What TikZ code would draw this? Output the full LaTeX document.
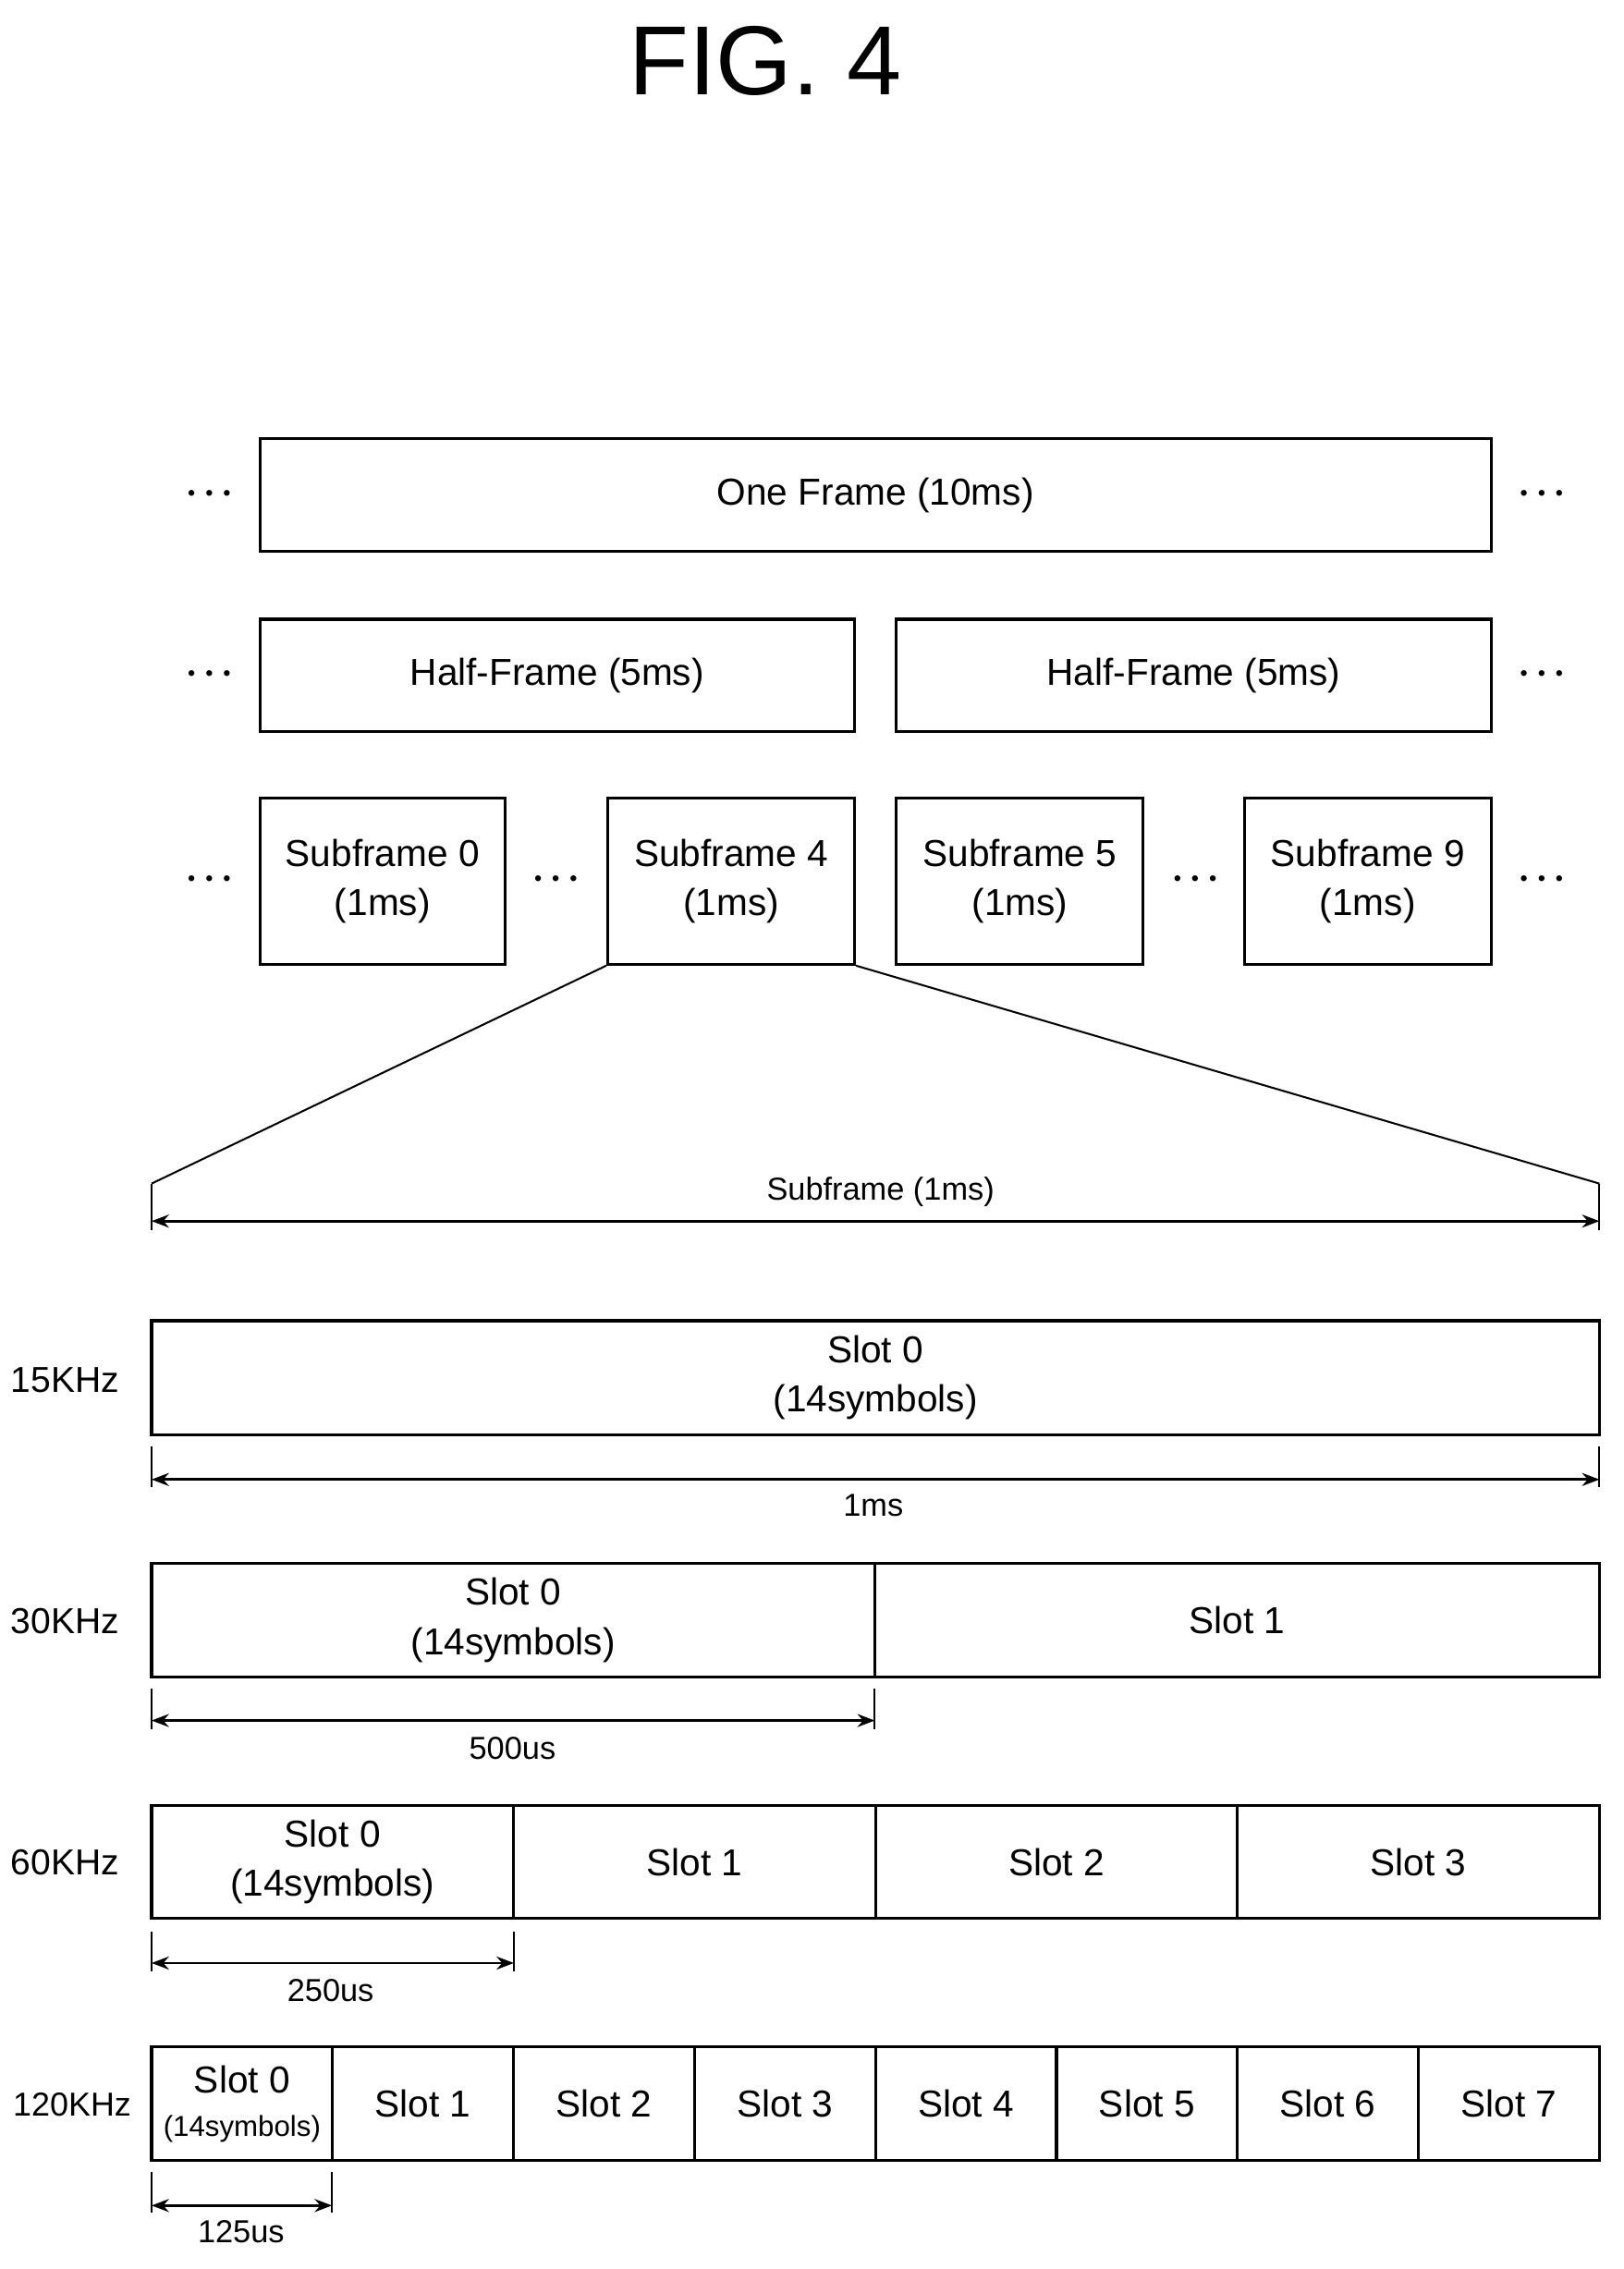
\documentclass[tikz,border=0pt]{standalone}
\usepackage{fontspec}
\usetikzlibrary{arrows.meta}
\setmainfont{Liberation Sans}
\begin{document}
\begin{tikzpicture}[x=1pt,y=-1pt,
 box/.style={draw,line width=2pt,inner sep=0pt,align=center,font=\fontsize{26}{34}\selectfont},
 lbl/.style={font=\fontsize{25}{30}\selectfont},
 dim/.style={font=\fontsize{22}{26}\selectfont},
 dl/.style={line width=1.3pt},
 da/.style={line width=1.8pt,{Stealth[length=12pt]}-{Stealth[length=12pt]}},
 dots/.style={font=\fontsize{15}{15}\selectfont,inner sep=0pt}]
\useasboundingbox (0,0) rectangle (1125,1572);
\node[font=\fontsize{68}{70}\selectfont] (title) at (530,42) {FIG. 4};
% frame
\node[box,minimum width=853pt,minimum height=78pt] (frame) at (606.5,343) {One Frame (10ms)};
\node[box,minimum width=412pt,minimum height=78pt] (h1) at (386,468) {Half-Frame (5ms)};
\node[box,minimum width=412pt,minimum height=78pt] (h2) at (827,468) {Half-Frame (5ms)};
\node[box,minimum width=170pt,minimum height=115pt] (s0) at (265,610.5) {Subframe 0\\(1ms)};
\node[box,minimum width=171pt,minimum height=115pt] (s4) at (506.5,610.5) {Subframe 4\\(1ms)};
\node[box,minimum width=171pt,minimum height=115pt] (s5) at (706.5,610.5) {Subframe 5\\(1ms)};
\node[box,minimum width=171pt,minimum height=115pt] (s9) at (947.5,610.5) {Subframe 9\\(1ms)};
\foreach \n/\x/\y in {d1/145/343,d2/1068/343,d3/145/468,d4/1068/468,d5/145/610,d6/385/610,d7/828/610,d8/1068/610}
  \node[dots] (\n) at (\x,\y) {\textbullet\hspace{7pt}\textbullet\hspace{7pt}\textbullet};
% zoom lines
\coordinate (zl) at (105,820); \coordinate (zr) at (1108,820);
\draw[line width=1.3pt] (s4.south west) -- (zl);
\draw[line width=1.3pt] (s4.south east) -- (zr);
\coordinate (zlb) at (105,852); \coordinate (zrb) at (1108,852);
\draw[dl] (zl) -- (zlb); \draw[dl] (zr) -- (zrb);
\coordinate (za) at (105,846); \coordinate (zb) at (1108,846);
\draw[da] (za) -- (zb);
\node[dim] (zt) at (610,826) {Subframe (1ms)};
% 15 kHz
\node[lbl] (k15) at (45,956) {15KHz};
\node[box,minimum width=1003pt,minimum height=79pt] (a0) at (606.5,954.5) {Slot 0\\(14symbols)};
\coordinate (a1) at (105,1002); \coordinate (a2) at (105,1030); \coordinate (a3) at (1108,1002); \coordinate (a4) at (1108,1030);
\draw[dl] (a1)--(a2); \draw[dl] (a3)--(a4);
\coordinate (a5) at (105,1025); \coordinate (a6) at (1108,1025);
\draw[da] (a5)--(a6);
\node[dim] (at) at (605,1043) {1ms};
% 30 kHz
\node[lbl] (k30) at (45,1123) {30KHz};
\node[box,minimum width=501pt,minimum height=79pt] (b0) at (355.5,1122.5) {Slot 0\\(14symbols)};
\node[box,minimum width=502pt,minimum height=79pt] (b1) at (857,1122.5) {Slot 1};
\coordinate (b2) at (105,1170); \coordinate (b3) at (105,1198); \coordinate (b4) at (606,1170); \coordinate (b5) at (606,1198);
\draw[dl] (b2)--(b3); \draw[dl] (b4)--(b5);
\coordinate (b6) at (105,1192); \coordinate (b7) at (606,1192);
\draw[da] (b6)--(b7);
\node[dim] (bt) at (355,1211) {500us};
% 60 kHz
\node[lbl] (k60) at (45,1290) {60KHz};
\foreach \i in {0,1,2,3}{
  \pgfmathsetmacro\cx{105+250.75*\i+125.375}
  \ifnum\i=0
    \node[box,minimum width=250.75pt,minimum height=78pt] (c\i) at (\cx,1290) {Slot 0\\(14symbols)};
  \else
    \node[box,minimum width=250.75pt,minimum height=78pt] (c\i) at (\cx,1290) {Slot \i};
  \fi}
\coordinate (c4) at (105,1338); \coordinate (c5) at (105,1366); \coordinate (c6) at (356,1338); \coordinate (c7) at (356,1366);
\draw[dl] (c4)--(c5); \draw[dl] (c6)--(c7);
\coordinate (c8) at (105,1360); \coordinate (c9) at (356,1360);
\draw[da] (c8)--(c9);
\node[dim] (ct) at (229,1379) {250us};
% 120 kHz
\node[lbl,font=\fontsize{23}{28}\selectfont] (k120) at (50,1458) {120KHz};
\foreach \i in {0,...,7}{
  \pgfmathsetmacro\cx{105+125.375*\i+62.6875}
  \ifnum\i=0
    \node[box,minimum width=125.375pt,minimum height=79pt] (e\i) at (\cx,1457.5) {Slot 0\\[-4pt]{\fontsize{20}{24}\selectfont(14symbols)}};
  \else
    \node[box,minimum width=125.375pt,minimum height=79pt] (e\i) at (\cx,1457.5) {Slot \i};
  \fi}
\coordinate (f1) at (105,1505); \coordinate (f2) at (105,1533); \coordinate (f3) at (230,1505); \coordinate (f4) at (230,1533);
\draw[dl] (f1)--(f2); \draw[dl] (f3)--(f4);
\coordinate (f5) at (105,1528); \coordinate (f6) at (230,1528);
\draw[da] (f5)--(f6);
\node[dim] (ft) at (167,1546) {125us};
\end{tikzpicture}
\end{document}
